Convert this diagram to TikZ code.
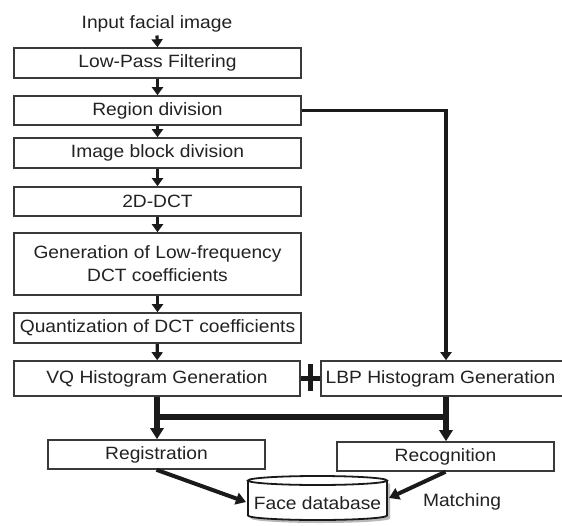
\documentclass[tikz,border=0pt]{standalone}
\usepackage{fontspec}
\setmainfont{Liberation Sans}[FakeStretch=1.08]
\usetikzlibrary{arrows.meta}
\definecolor{boxc}{HTML}{3A3A3A}
\definecolor{linec}{HTML}{1A1A1A}
\definecolor{txt}{HTML}{222222}
\begin{document}
\begin{tikzpicture}[x=1pt,y=-1pt,
  box/.style={draw=boxc, line width=1.6pt, fill=white, inner sep=0pt, text=txt,
    font=\fontsize{17.8}{23}\selectfont, align=center},
  lbl/.style={inner sep=0pt, text=txt, font=\fontsize{17.8}{23}\selectfont},
  arr/.style={draw=linec, line width=3.2pt, -{Triangle[width=11pt,length=8pt]}},
  bigarr/.style={draw=linec, line width=5.5pt, -{Triangle[width=13pt,length=11pt]}},
  bigline/.style={draw=linec, line width=5.5pt},
  sidearr/.style={draw=linec, line width=4pt, -{Triangle[width=12pt,length=10pt]}},
  plusline/.style={draw=linec, line width=4.5pt}]
\useasboundingbox (0,0) rectangle (562,525);
\fill[white] (0,0) rectangle (562,525);

\node[lbl] (in) at (157,24) {Input facial image};
\node[box, minimum width=287pt, minimum height=30pt] (lpf) at (157.5,63) {Low-Pass Filtering};
\node[box, minimum width=287pt, minimum height=29pt] (rd) at (157.5,110.5) {Region division};
\node[box, minimum width=287pt, minimum height=30pt] (ib) at (157.5,153) {Image block division};
\node[box, minimum width=287pt, minimum height=29pt] (dct) at (157.5,201.5) {2D-DCT};
\node[box, minimum width=287pt, minimum height=62pt] (gen) at (157.5,264) {Generation of Low-frequency\\DCT coefficients};
\node[box, minimum width=287pt, minimum height=30pt] (qt) at (157.5,328) {Quantization of DCT coefficients};
\node[box, minimum width=286pt, minimum height=35pt] (vq) at (157,378.5) {VQ Histogram Generation};
\node[box, minimum width=245pt, minimum height=35pt] (lbp) at (443.5,378.5) {\hspace*{-6pt}LBP Histogram Generation};
\node[box, minimum width=217pt, minimum height=29pt] (reg) at (156.5,454.5) {Registration};
\node[box, minimum width=217pt, minimum height=29pt] (rec) at (445.5,456.5) {Recognition};

% cylinder
\node[minimum width=139pt, minimum height=45pt, inner sep=0pt] (db) at (317.5,498) {};
\fill[gray!55] (251,483.5) -- (251,518.5) arc[start angle=180,end angle=360,x radius=69.5pt,y radius=4.5pt] -- (390,483.5) -- cycle;
\filldraw[fill=white, draw=linec, line width=1.8pt] (248,480.5) -- (248,515.5) arc[start angle=180,end angle=360,x radius=69.5pt,y radius=4.5pt] -- (387,480.5);
\filldraw[fill=white, draw=linec, line width=1.8pt] (317.5,480.5) ellipse[x radius=69.5pt, y radius=4.5pt];
\node[lbl] at (db.center) [yshift=-5pt] {Face database};
\node[lbl] (match) at (462,502) {Matching};

\coordinate (rc) at (446,0);
\coordinate (hl) at (157,417);
\coordinate (hr) at (446,417);
\coordinate (dbl) at (246,502);
\coordinate (dbr) at (389,498);

\draw[arr] (in.south) ++(0,3) -- (lpf.north);
\draw[arr] (lpf) -- (rd);
\draw[arr] (rd) -- (ib);
\draw[arr] (ib) -- (dct);
\draw[arr] (dct) -- (gen);
\draw[arr] (gen) -- (qt);
\draw[arr] (qt) -- (vq);
\draw[arr] (rd.east) -| (lbp.north -| rc);

\draw[plusline] (vq.east) -- (lbp.west);
\draw[plusline] (310.5,364) -- (310.5,391);

\draw[bigarr] (vq.south) -- (vq.south |- reg.north);
\draw[bigarr] (lbp.south -| rc) -- (rec.north -| rc);
\draw[bigline] ([xshift=-2.75pt]hl) -- ([xshift=2.75pt]hr);

\draw[sidearr] (reg.south) -- (dbl);
\draw[sidearr] (rec.south) -- (dbr);
\end{tikzpicture}
\end{document}
